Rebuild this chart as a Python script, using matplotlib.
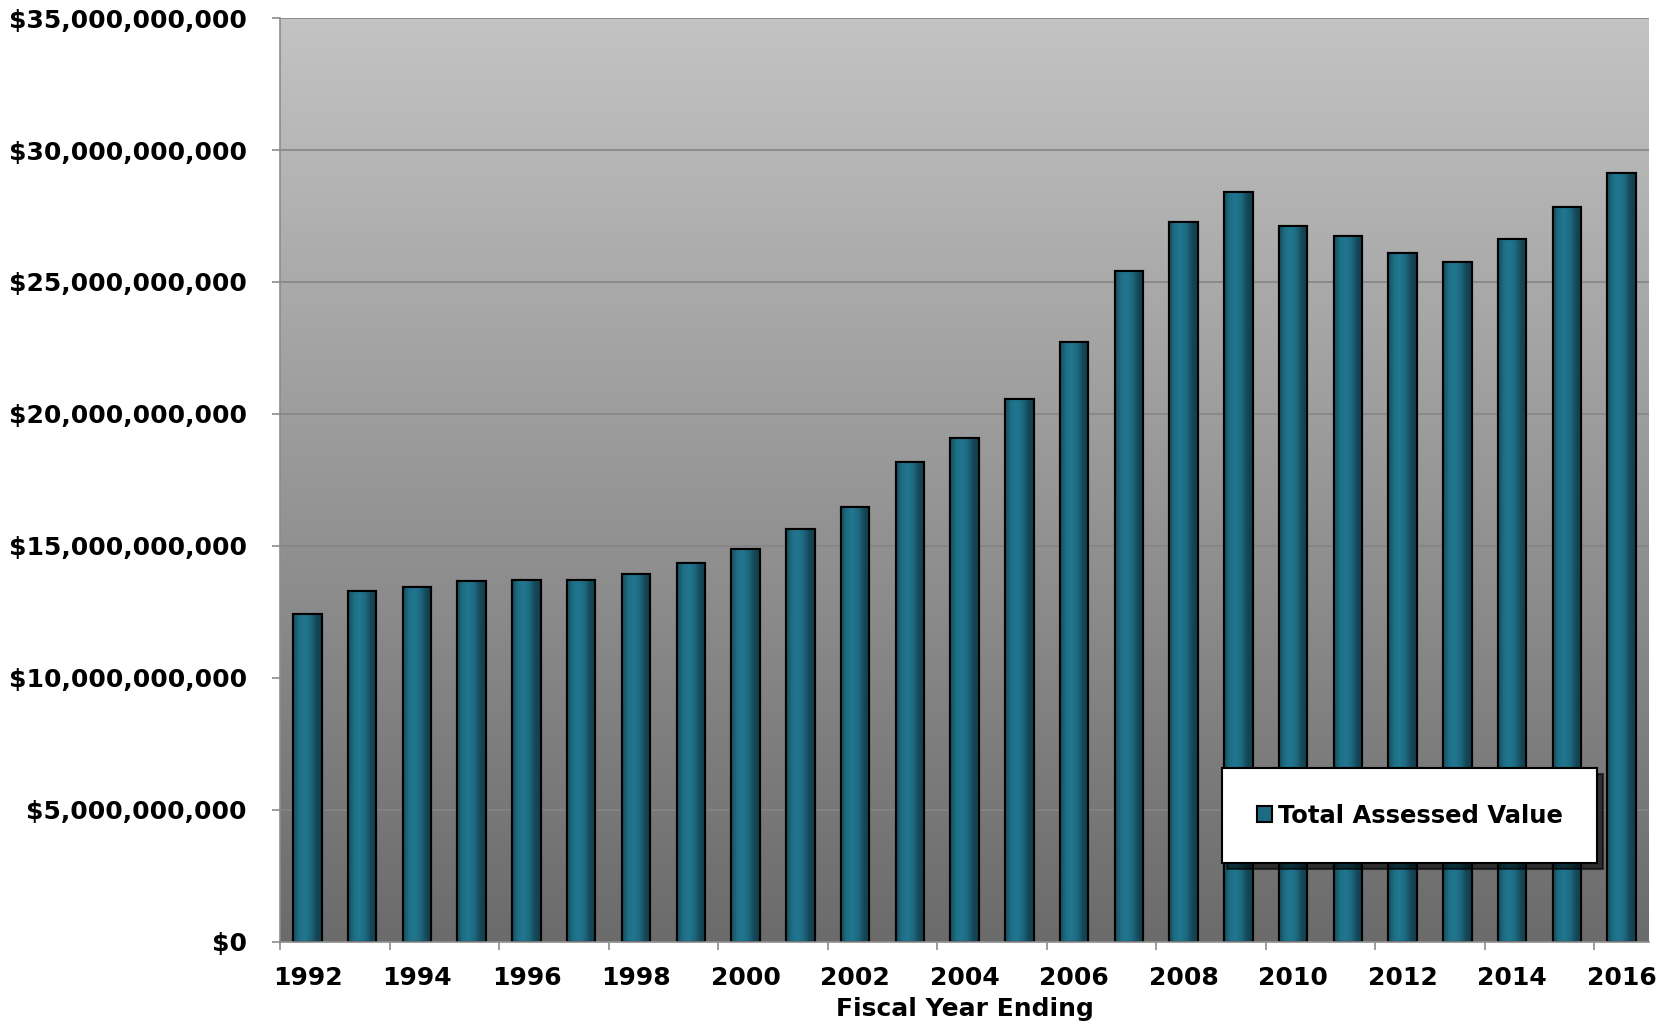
import numpy as np
import matplotlib
matplotlib.use('Agg')
import matplotlib.pyplot as plt
from matplotlib.ticker import FuncFormatter, FixedLocator
from matplotlib.colors import LinearSegmentedColormap

# Fiscal years and total assessed value (billions of dollars)
years = list(range(1992, 2017))
values_bn = [12.42, 13.31, 13.46, 13.67, 13.71, 13.72, 13.95, 14.34, 14.87, 15.63,
             16.49, 18.18, 19.09, 20.57, 22.74, 25.42, 27.26, 28.42, 27.11, 26.75,
             26.11, 25.75, 26.64, 27.83, 29.14]
values = [v * 1e9 for v in values_bn]

series_label = 'Total Assessed Value'
x_title = 'Fiscal Year Ending'

plt.rcParams['font.family'] = 'DejaVu Sans'
plt.rcParams['font.weight'] = 'bold'

fig = plt.figure(figsize=(16.75, 10.23), dpi=100)
ax = fig.add_axes([0.1672, 0.0792, 0.8173, 0.9032])

n = len(years)
x = np.arange(n)
ymax = 35e9

# Gray gradient background (light on top, dark at bottom)
bg = LinearSegmentedColormap.from_list('bg', ['#6b6b6b', '#c3c3c3'])
ax.imshow(np.linspace(0, 1, 256).reshape(-1, 1), cmap=bg, origin='lower',
          extent=[-0.5, n - 0.5, 0, ymax], aspect='auto', zorder=0)

# Bars with a horizontal shading
bar_w = 0.52
bars = ax.bar(x, values, width=bar_w, color='#1d6b80', edgecolor='black',
              linewidth=1.5, zorder=3, label=series_label)
shade = LinearSegmentedColormap.from_list(
    'shade', ['#154b5a', '#1e6f86', '#217690', '#1d6a80', '#16495a', '#113c49'])
grad = np.linspace(0, 1, 64).reshape(1, -1)
for b in bars:
    im = ax.imshow(grad, cmap=shade, extent=[b.get_x(), b.get_x() + b.get_width(), 0, b.get_height()],
                   aspect='auto', zorder=3.5)
    im.set_clip_path(b)
ax.bar(x, values, width=bar_w, fill=False, edgecolor='black', linewidth=1.5, zorder=4)

ax.set_xlim(-0.5, n - 0.5)
ax.set_ylim(0, ymax)

# Y axis
ax.set_yticks(np.arange(0, ymax + 1, 5e9))
ax.yaxis.set_major_formatter(FuncFormatter(lambda v, p: '${:,.0f}'.format(v)))
ax.yaxis.grid(True, color='#858585', linewidth=1.2, zorder=1)
ax.set_axisbelow(False)
ax.tick_params(axis='y', which='major', direction='out', length=6, width=1.2,
               color='#8c8c8c', pad=18, labelsize=18)

# X axis: tick marks at category boundaries, labels under even years
ax.xaxis.set_major_locator(FixedLocator(np.arange(-0.5, n - 1, 2)))
ax.xaxis.set_minor_locator(FixedLocator(x[::2]))
ax.set_xticklabels([], minor=False)
ax.set_xticklabels([str(y) for y in years[::2]], minor=True)
ax.tick_params(axis='x', which='major', direction='out', length=6, width=1.2, color='#8c8c8c')
ax.tick_params(axis='x', which='minor', length=0, pad=17, labelsize=18)
ax.set_xlabel(x_title, fontsize=18, fontweight='bold', labelpad=5)

for s in ['top', 'right']:
    ax.spines[s].set_visible(False)
for s in ['left', 'bottom']:
    ax.spines[s].set_color('#8c8c8c')
    ax.spines[s].set_linewidth(1.2)
    ax.spines[s].set_zorder(5)

leg = ax.legend(handles=[bars], loc='lower left', bbox_to_anchor=(0.688, 0.0855, 0.274, 0.1006),
                mode='expand', fontsize=17.5, frameon=True, fancybox=False,
                shadow={'ox': 4, 'oy': -4, 'color': 'black', 'alpha': 0.6},
                handlelength=0.6, handleheight=0.6, handletextpad=0.25,
                borderpad=1.45, borderaxespad=0)
leg.get_frame().set_edgecolor('black')
leg.get_frame().set_linewidth(1.5)
leg.get_frame().set_facecolor('white')
leg.get_frame().set_alpha(1)
leg.set_zorder(10)

fig.savefig('out.png', dpi=100)
